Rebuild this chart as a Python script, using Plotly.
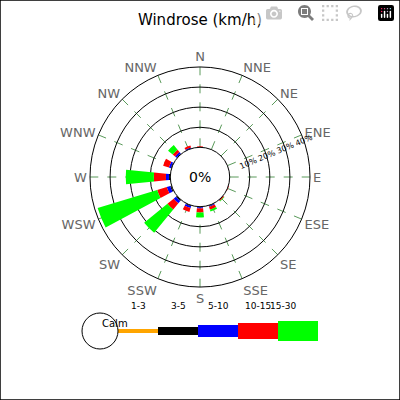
import plotly.graph_objects as go

directions = ['N', 'NNE', 'NE', 'ENE', 'E', 'ESE', 'SE', 'SSE',
              'S', 'SSW', 'SW', 'WSW', 'W', 'WNW', 'NW', 'NNW']
speed_bins = ['1-3', '3-5', '5-10', '10-15', '15-30']
bin_colors = ['#ffa500', '#000000', '#0000ff', '#ff0000', '#00ff00']

# percent frequency per direction, one list per speed bin
freq_1_3 = [0, 0, 0, 0, 0, 0, 0, 0.1, 0.1, 0.1, 0.2, 0.2, 0.2, 0.1, 0.1, 0]
freq_3_5 = [0, 0, 0, 0, 0, 0, 0, 0.2, 0.3, 0.3, 0.5, 0.5, 0.5, 0.3, 0.2, 0.1]
freq_5_10 = [0.2, 0, 0, 0, 0, 0, 0.2, 0.4, 0.5, 1.0, 1.5, 1.8, 1.5, 1.0, 1.0, 0.5]
freq_10_15 = [0.3, 0, 0, 0, 0, 0.3, 0.5, 1.5, 2.0, 2.0, 4.0, 5.0, 6.0, 3.0, 1.5, 1.0]
freq_15_30 = [0, 0, 0, 0, 0, 0, 0.3, 1.0, 2.5, 0, 15.0, 31.0, 14.0, 0, 3.0, 0]
all_freqs = [freq_1_3, freq_3_5, freq_5_10, freq_10_15, freq_15_30]

fig = go.Figure()
for name, vals, col in zip(speed_bins, all_freqs, bin_colors):
    fig.add_trace(go.Barpolar(
        r=vals, theta=directions, name=name,
        marker=dict(color=col, line=dict(width=0)),
        width=0.5, showlegend=False
    ))

fig.update_layout(
    width=400, height=400,
    margin=dict(l=0, r=0, t=0, b=0),
    paper_bgcolor='white',
    font=dict(family='DejaVu Sans', color='black'),
    barmode='stack',
    title=dict(text='Windrose (km/h)', x=0.5, y=0.965, xanchor='center',
               font=dict(size=15, color='black')),
    polar=dict(
        domain=dict(x=[0.225, 0.775], y=[0.2825, 0.8325]),
        hole=0.27,
        bgcolor='white',
        angularaxis=dict(
            direction='clockwise', rotation=90,
            showline=True, linecolor='black', linewidth=1,
            gridcolor='#5a9a5a', griddash='dash', gridwidth=0.8,
            ticks='', tickfont=dict(size=13, color='#666666')
        ),
        radialaxis=dict(
            range=[0, 40], angle=22.5, tickangle=0,
            tickvals=[0, 10, 20, 30, 40],
            ticktext=['', '10%', '20%', '30%', '40%'],
            tickfont=dict(size=8, color='black'),
            showline=False, ticks='',
            gridcolor='black', gridwidth=1.2
        )
    )
)

fig.add_annotation(x=0.5, y=1 - 177 / 400, xref='paper', yref='paper',
                   text='0%', showarrow=False, font=dict(size=14))

# legend drawn as a speed bar below the rose
shapes = [dict(type='rect', xref='paper', yref='paper', x0=0, y0=0, x1=1, y1=1,
               line=dict(color='black', width=1.5))]
seg_x = [118, 158, 198, 238, 278, 318]
seg_h = [2, 4, 6, 8, 10]
yc = 1 - 331 / 400
for i, col in enumerate(bin_colors):
    h = seg_h[i] / 400
    shapes.append(dict(type='rect', xref='paper', yref='paper',
                       x0=seg_x[i] / 400, x1=seg_x[i + 1] / 400,
                       y0=yc - h, y1=yc + h, fillcolor=col, line=dict(width=0)))
    fig.add_annotation(x=(seg_x[i] + seg_x[i + 1]) / 800, y=1 - 313 / 400,
                       xref='paper', yref='paper', text=speed_bins[i],
                       showarrow=False, font=dict(size=9))
shapes.append(dict(type='circle', xref='paper', yref='paper',
                   x0=82 / 400, x1=118 / 400, y0=yc - 18 / 400, y1=yc + 18 / 400,
                   fillcolor='white', line=dict(color='black', width=1)))
fig.add_annotation(x=100 / 400, y=yc, xref='paper', yref='paper', text='Calm',
                   showarrow=False, font=dict(size=10))
fig.update_layout(shapes=shapes)

fig.write_html('out.html',
               post_script="document.body.style.margin='0';document.body.style.overflow='hidden';")
